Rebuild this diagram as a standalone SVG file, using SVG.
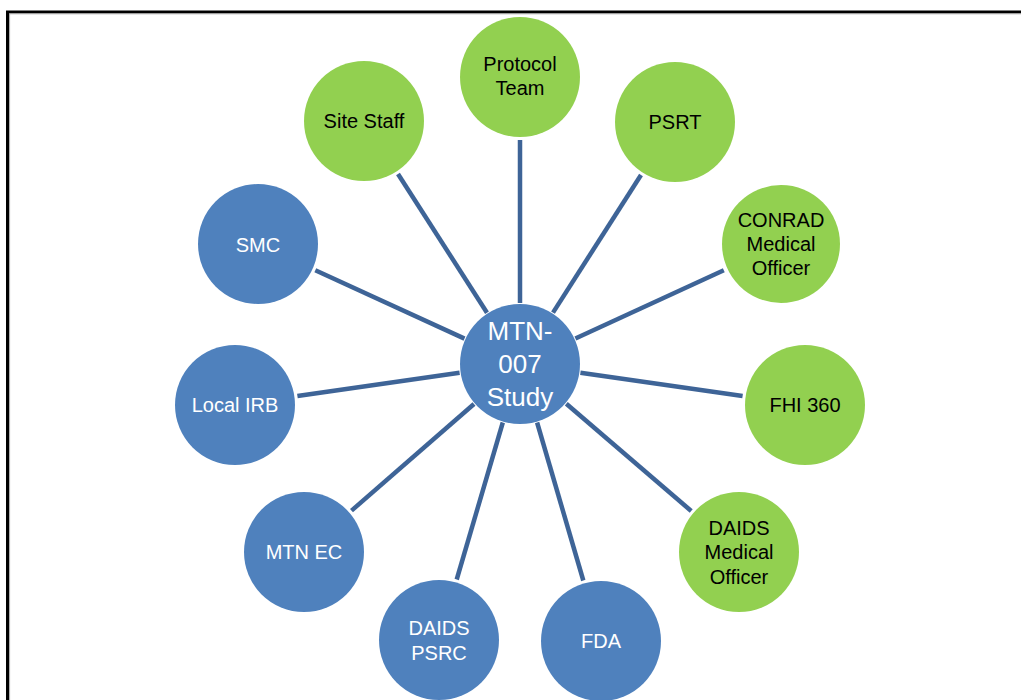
<svg xmlns="http://www.w3.org/2000/svg" width="1021" height="700" viewBox="0 0 1021 700">
<style>
.g{fill:#92D050}
.b{fill:#4F81BD}
.t{font-family:"Liberation Sans",Arial,sans-serif;font-size:20px;text-anchor:middle}
.tk{fill:#000}
.tw{fill:#fff}
.c{font-family:"Liberation Sans",Arial,sans-serif;font-size:26px;text-anchor:middle;fill:#fff}
#connectors line{stroke:#3E6497;stroke-width:4.5}
</style>
<rect x="0" y="0" width="1021" height="700" fill="#fff"/>
<rect x="7.5" y="12" width="1100" height="800" fill="none" stroke="#000" stroke-width="3"/>
<line x1="9.5" y1="13.8" x2="1021" y2="13.8" stroke="#aaa" stroke-width="1"/>
<line x1="9.6" y1="13.8" x2="9.6" y2="700" stroke="#aaa" stroke-width="1"/>
<g id="connectors">
<line x1="520" y1="140" x2="520" y2="303"/>
<line x1="641" y1="175" x2="553" y2="312.6"/>
<line x1="723.8" y1="270.3" x2="575.4" y2="338.5"/>
<line x1="742.6" y1="396" x2="580.4" y2="372.7"/>
<line x1="691.2" y1="511" x2="566.3" y2="403.7"/>
<line x1="583.3" y1="580.5" x2="537.1" y2="422.5"/>
<line x1="456.7" y1="579.5" x2="502.8" y2="422.5"/>
<line x1="351.5" y1="510.6" x2="474" y2="404"/>
<line x1="297.4" y1="396" x2="459.6" y2="372.7"/>
<line x1="315.3" y1="270.2" x2="464.5" y2="338.6"/>
<line x1="398" y1="174" x2="487" y2="312.7"/>
</g>
<g id="center"><circle class="b" cx="520" cy="364" r="60"/><text class="c" x="520" y="340">MTN-</text><text class="c" x="520" y="373">007</text><text class="c" x="520" y="406">Study</text></g>
<g id="protocol-team"><circle class="g" cx="520" cy="77" r="60"/><text class="t tk" x="520" y="71">Protocol</text><text class="t tk" x="520" y="95">Team</text></g>
<g id="psrt"><circle class="g" cx="675" cy="122" r="60"/><text class="t tk" x="675" y="129">PSRT</text></g>
<g id="conrad"><circle class="g" cx="781" cy="244" r="59"/><text class="t tk" x="781" y="227">CONRAD</text><text class="t tk" x="781" y="251">Medical</text><text class="t tk" x="781" y="275">Officer</text></g>
<g id="fhi360"><circle class="g" cx="805" cy="405" r="60"/><text class="t tk" x="805" y="412">FHI 360</text></g>
<g id="daids-mo"><circle class="g" cx="739" cy="552" r="60"/><text class="t tk" x="739" y="535">DAIDS</text><text class="t tk" x="739" y="559">Medical</text><text class="t tk" x="739" y="584">Officer</text></g>
<g id="fda"><circle class="b" cx="601" cy="641" r="60"/><text class="t tw" x="601" y="648">FDA</text></g>
<g id="daids-psrc"><circle class="b" cx="439" cy="640" r="60"/><text class="t tw" x="439" y="635">DAIDS</text><text class="t tw" x="439" y="660">PSRC</text></g>
<g id="mtn-ec"><circle class="b" cx="304" cy="552" r="60"/><text class="t tw" x="304" y="559">MTN EC</text></g>
<g id="local-irb"><circle class="b" cx="235" cy="405" r="60"/><text class="t tw" x="235" y="412">Local IRB</text></g>
<g id="smc"><circle class="b" cx="258" cy="244" r="60"/><text class="t tw" x="258" y="252">SMC</text></g>
<g id="site-staff"><circle class="g" cx="364" cy="121" r="60"/><text class="t tk" x="364" y="128">Site Staff</text></g>
</svg>
